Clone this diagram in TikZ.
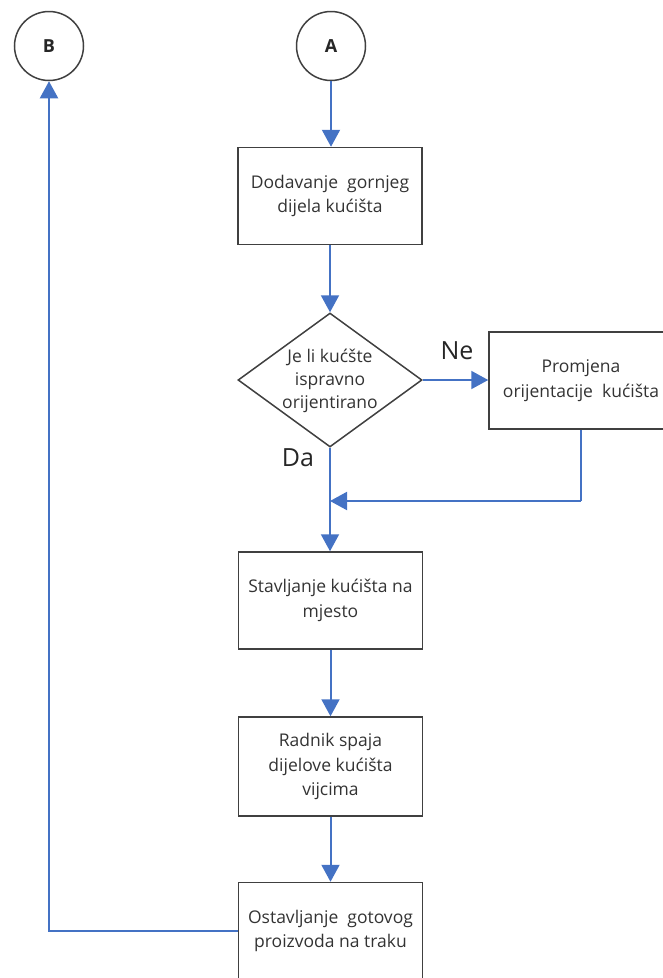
\documentclass[tikz,border=0pt]{standalone}
\usepackage{fontspec}
\setmainfont{Open Sans}
\usetikzlibrary{arrows.meta,shapes.geometric}
\definecolor{flowblue}{HTML}{4472C4}
\definecolor{boxgray}{HTML}{404040}
\tikzset{
  stepbox/.style={draw=boxgray, line width=1.5pt, rectangle, inner sep=0pt,
    minimum width=184pt, minimum height=97pt, align=center,
    font=\fontsize{17.5}{24.5}\selectfont, text=black!80},
  decisionbox/.style={draw=boxgray, line width=1.5pt, diamond, inner sep=0pt,
    minimum width=184pt, minimum height=134pt},
  decisiontext/.style={inner sep=0pt, align=center,
    font=\fontsize{17.5}{23}\selectfont, text=black!80},
  connbox/.style={draw=boxgray, line width=1.5pt, circle, inner sep=0pt,
    minimum size=69pt, font=\fontsize{18}{20}\selectfont\bfseries, text=black!85},
  flow/.style={draw=flowblue, line width=2pt},
  flowarrow/.style={flow, -{Triangle[width=18pt,length=17pt]}},
  lbl/.style={font=\fontsize{25}{26}\selectfont, text=black!85}
}
\begin{document}
\begin{tikzpicture}[x=1pt,y=-1pt]
\useasboundingbox (0,0) rectangle (662,978);
\node[connbox] (B) at (49,46) {B};
\node[connbox] (A) at (331,46) {A};
\node[stepbox] (s1) at (330,196) {Dodavanje\ \ gornjeg\\dijela kućišta};
\node[decisionbox] (d) at (330,380) {};
\node[decisiontext] (dt) at (330,381) {Je li kućšte\\ispravno\\orijentirano};
\node[stepbox] (p) at (581,380.5) {Promjena\\orijentacije\ \ kućišta};
\node[stepbox] (s2) at (330.5,600.5) {Stavljanje kućišta na\\mjesto};
\node[stepbox, minimum height=99pt] (s3) at (330.5,766.5) {Radnik spaja\\dijelove kućišta\\vijcima};
\node[stepbox] (s4) at (330.5,931) {Ostavljanje\ \ gotovog\\proizvoda na traku};
\node[lbl] (ne) at (457,351) {Ne};
\node[lbl] (da) at (298,458) {Da};
\coordinate (m) at (330,501);
\coordinate (pc) at (581,501);
\coordinate (bl) at (49,931);
\draw[flowarrow] (A.south) -- (A.south |- s1.north);
\draw[flowarrow] (s1.south) -- (s1.south |- d.north);
\draw[flowarrow] (d.east) -- (d.east -| p.west);
\draw[flowarrow] (d.south) -- (d.south |- s2.north);
\draw[flow] (p.south) -- (pc);
\draw[flowarrow] (pc) -- (m);
\draw[flowarrow] (s2.south) -- (s2.south |- s3.north);
\draw[flowarrow] (s3.south) -- (s3.south |- s4.north);
\draw[flowarrow] (s4.west) -- (bl) -- (B.south);
\end{tikzpicture}
\end{document}
